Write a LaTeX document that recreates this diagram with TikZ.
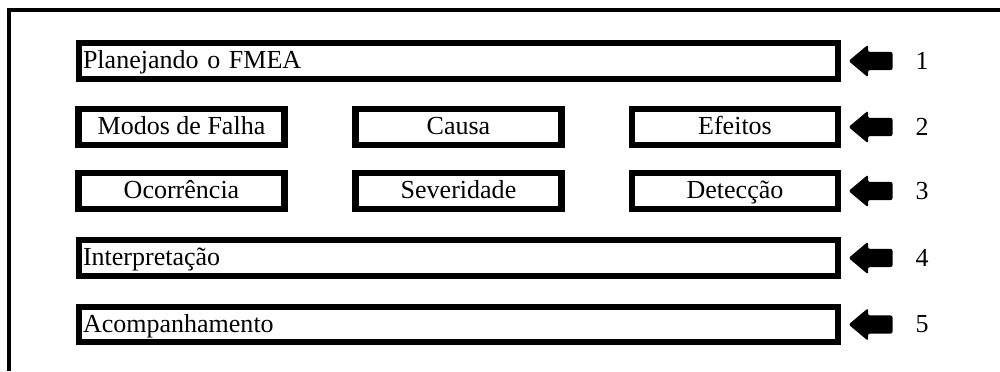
\documentclass[tikz,border=0pt]{standalone}
\usepackage{fontspec}
\setmainfont{Liberation Serif}
\usetikzlibrary{shapes.arrows}
\tikzset{
  etapa/.style={draw, line width=0.155cm, minimum height=0.885cm, inner ysep=0pt,
    text height=14pt, text depth=3pt, font=\fontsize{18.5}{21}\selectfont},
  longa/.style={etapa, text width=18.77cm, inner xsep=0.1cm, align=left},
  curta/.style={etapa, minimum width=5.145cm, inner xsep=0pt},
  seta/.style={single arrow, fill=black, shape border rotate=180, minimum height=1.1cm,
    inner sep=0.22cm, single arrow head extend=0.18cm, single arrow tip angle=80,
    rounded corners=1.5pt},
  numero/.style={font=\fontsize{18.5}{21}\selectfont, inner sep=0pt}
}
\begin{document}
\begin{tikzpicture}[x=0.025cm, y=-0.025cm]
  \useasboundingbox (0,0) rectangle (1000,371);
  % moldura
  \draw[line width=0.11cm] (9,371) -- (9,10) -- (1000,10);
  % etapas
  \node[longa] (planejar) at (458.5,61) {Planejando o FMEA};
  \node[curta] (modos) at (181.5,127) {Modos de Falha};
  \node[curta] (causa) at (458.5,127) {Causa};
  \node[curta] (efeitos) at (735,127) {Efeitos};
  \node[curta] (ocorr) at (181.5,191) {Ocorrência};
  \node[curta] (sever) at (458.5,191) {Severidade};
  \node[curta] (detec) at (735,191) {Detecção};
  \node[longa] (interp) at (458.5,258) {Interpretação};
  \node[longa] (acomp) at (458.5,324.5) {Acompanhamento};
  % setas e numeros
  \foreach \n/\y in {1/61,2/127,3/191,4/258,5/324.5} {
    \node[seta] (s\n) at (876,\y) {};
    \node[numero] (n\n) at (922,\y) {\n};
  }
\end{tikzpicture}
\end{document}
